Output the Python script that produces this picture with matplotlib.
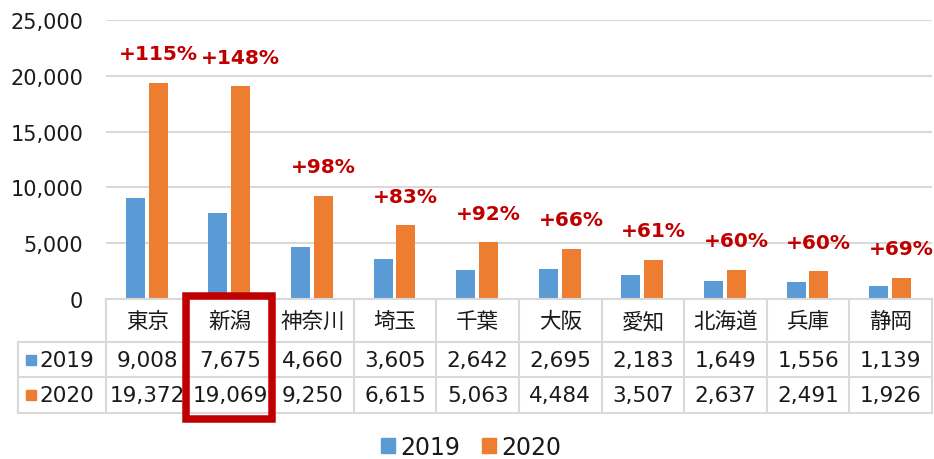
import matplotlib
matplotlib.use('Agg')
import numpy as np
import matplotlib.pyplot as plt
import matplotlib.transforms as mtransforms
from matplotlib.patches import Rectangle, Patch

plt.rcParams['font.family'] = ['DejaVu Sans', 'Noto Sans CJK JP']

prefectures = ['東京', '新潟', '神奈川', '埼玉', '千葉', '大阪', '愛知', '北海道', '兵庫', '静岡']
v2019 = [9008, 7675, 4660, 3605, 2642, 2695, 2183, 1649, 1556, 1139]
v2020 = [19372, 19069, 9250, 6615, 5063, 4484, 3507, 2637, 2491, 1926]
growth = ['+115%', '+148%', '+98%', '+83%', '+92%', '+66%', '+61%', '+60%', '+60%', '+69%']
series = ['2019', '2020']
yticks = [0, 5000, 10000, 15000, 20000, 25000]

BLUE = '#5B9BD5'
ORANGE = '#ED7D31'
GRID = '#D9D9D9'
RED = '#C00000'
TXT = '#1a1a1a'

W, H = 934, 460
fig = plt.figure(figsize=(W / 100, H / 100), dpi=100)
ax = fig.add_axes([106 / W, (H - 300) / H, 826 / W, 279 / H])

x = np.arange(len(prefectures))
ax.bar(x - 0.145, v2019, width=0.23, color=BLUE, zorder=2)
ax.bar(x + 0.13, v2020, width=0.23, color=ORANGE, zorder=2)

ax.set_xlim(-0.5, len(prefectures) - 0.5)
ax.set_ylim(0, 25000)
ax.set_yticks(yticks)
ax.set_yticklabels([f'{v:,}' for v in yticks])
ax.set_xticks([])
ax.yaxis.grid(True, color=GRID, lw=1.5)
ax.set_axisbelow(True)
for s in ax.spines.values():
    s.set_visible(False)
ax.tick_params(axis='y', length=0, pad=16.5, labelsize=15, labelcolor=TXT)

for i in range(len(prefectures)):
    ax.annotate(growth[i], xy=(x[i] + 0.13, v2020[i]), xytext=(0, 29),
                textcoords='offset pixels', ha='center', va='center',
                color=RED, fontweight='bold', fontsize=14.5)

# data table
trans = mtransforms.blended_transform_factory(ax.transData, ax.transAxes)
colw = 82.6  # pixels per category


def yf(p):
    return (300 - p) / 279


def xd(p):
    return -0.5 + (p - 106) / colw


edges = np.arange(len(prefectures) + 1) - 0.5
xl = xd(18)
lw = 1.5
for e in edges:
    ax.plot([e, e], [yf(300), yf(414)], color=GRID, lw=lw, transform=trans, clip_on=False, zorder=1)
ax.plot([xl, xl], [yf(343), yf(414)], color=GRID, lw=lw, transform=trans, clip_on=False, zorder=1)
for yy in (343, 378, 414):
    ax.plot([xl, edges[-1]], [yf(yy), yf(yy)], color=GRID, lw=lw, transform=trans, clip_on=False, zorder=1)
ax.plot([edges[0], edges[-1]], [yf(300), yf(300)], color=GRID, lw=lw, transform=trans, clip_on=False, zorder=3)

fs_tab = 15.5
for i, name in enumerate(prefectures):
    ax.text(x[i], yf(322), name, ha='center', va='center', fontsize=fs_tab, color=TXT, transform=trans)
    ax.text(x[i], yf(361), f'{v2019[i]:,}', ha='center', va='center', fontsize=fs_tab, color=TXT, transform=trans)
    ax.text(x[i], yf(396), f'{v2020[i]:,}', ha='center', va='center', fontsize=fs_tab, color=TXT, transform=trans)

for s, col, yy in zip(series, [BLUE, ORANGE], [361, 396]):
    ax.plot([xd(31)], [yf(yy)], marker='s', ms=7.2, color=col, transform=trans, clip_on=False)
    ax.text(xd(39), yf(yy), s, ha='left', va='center', fontsize=fs_tab, color=TXT, transform=trans)

# highlight box around 新潟
box = Rectangle((xd(185.5), yf(420)), xd(272) - xd(185.5), yf(297) - yf(420),
                fill=False, edgecolor=RED, lw=5.4, transform=trans, clip_on=False, zorder=5)
ax.add_patch(box)

handles = [Patch(color=BLUE, label=series[0]), Patch(color=ORANGE, label=series[1])]
fig.legend(handles=handles, loc='center', bbox_to_anchor=(471 / W, 1 - 448 / H), ncol=2,
           frameon=False, fontsize=17, handlelength=0.6, handleheight=0.6,
           handletextpad=0.22, columnspacing=0.9, labelcolor=TXT,
           borderpad=0, borderaxespad=0)

fig.savefig('out.png', dpi=100)
